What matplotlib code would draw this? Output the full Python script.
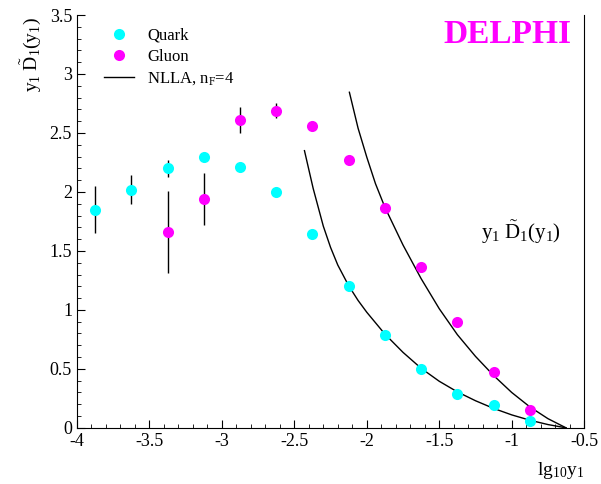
import matplotlib
matplotlib.use("Agg")
import matplotlib.pyplot as plt
import numpy as np
from matplotlib.ticker import MultipleLocator

plt.rcParams["font.family"] = "Liberation Serif"
plt.rcParams["mathtext.fontset"] = "custom"
plt.rcParams["mathtext.rm"] = "Liberation Serif"
plt.rcParams["mathtext.it"] = "Liberation Serif:italic"

# bin centres, lg10(y1)
x_quark = [-3.875, -3.625, -3.375, -3.125, -2.875, -2.625, -2.375,
           -2.125, -1.875, -1.625, -1.375, -1.125, -0.875]
y_quark = [1.85, 2.02, 2.20, 2.30, 2.21, 2.00, 1.64,
           1.20, 0.79, 0.50, 0.29, 0.19, 0.06]
err_quark = [0.20, 0.12, 0.07, 0, 0, 0, 0, 0, 0, 0, 0, 0, 0]

x_gluon = [-3.375, -3.125, -2.875, -2.625, -2.375, -2.125,
           -1.875, -1.625, -1.375, -1.125, -0.875]
y_gluon = [1.66, 1.94, 2.61, 2.69, 2.56, 2.27,
           1.86, 1.36, 0.90, 0.47, 0.15]
err_gluon = [0.35, 0.22, 0.11, 0.06, 0, 0, 0, 0, 0, 0, 0]

# NLLA curves
nlla_q_x = [-2.43, -2.37, -2.30, -2.25, -2.20, -2.125, -2.06, -2.00, -1.875,
            -1.75, -1.625, -1.50, -1.375, -1.25, -1.125, -1.00, -0.875, -0.75, -0.625]
nlla_q_y = [2.35, 2.03, 1.71, 1.53, 1.38, 1.205, 1.08, 0.98, 0.795,
            0.64, 0.505, 0.395, 0.305, 0.23, 0.165, 0.11, 0.065, 0.028, 0.0]
nlla_g_x = [-2.12, -2.06, -2.00, -1.94, -1.875, -1.75, -1.625, -1.50,
            -1.375, -1.25, -1.125, -1.00, -0.875, -0.75, -0.625]
nlla_g_y = [2.845, 2.54, 2.295, 2.07, 1.87, 1.55, 1.265, 1.01,
            0.79, 0.606, 0.444, 0.30, 0.178, 0.078, 0.0]

fig = plt.figure(figsize=(6.01, 4.84), dpi=100)
ax = fig.add_axes([0.128, 0.116, 0.844, 0.853])

ax.errorbar(x_quark, y_quark, yerr=err_quark, fmt="none", ecolor="black", elinewidth=1)
ax.errorbar(x_gluon, y_gluon, yerr=err_gluon, fmt="none", ecolor="black", elinewidth=1)
ax.plot(x_quark, y_quark, "o", color="#00ffff", ms=8, mec="none", label="Quark", zorder=3)
ax.plot(x_gluon, y_gluon, "o", color="#ff00ff", ms=8, mec="none", label="Gluon", zorder=3)
ax.plot(nlla_q_x, nlla_q_y, "-", color="black", lw=1, label=r"NLLA, n$_\mathrm{F}$=4")
ax.plot(nlla_g_x, nlla_g_y, "-", color="black", lw=1)

ax.set_xlim(-4, -0.5)
ax.set_ylim(0, 3.5)
ax.xaxis.set_minor_locator(MultipleLocator(0.1))
ax.yaxis.set_minor_locator(MultipleLocator(0.1))
ax.tick_params(which="both", direction="in", labelsize=13, top=False, right=False)
ax.tick_params(which="major", length=6)
ax.tick_params(which="minor", length=3)
ax.spines["top"].set_visible(False)
ax.set_xticks([-4, -3.5, -3, -2.5, -2, -1.5, -1, -0.5])
ax.set_xticklabels(["-4", "-3.5", "-3", "-2.5", "-2", "-1.5", "-1", "-0.5"])
ax.set_yticks([0, 0.5, 1, 1.5, 2, 2.5, 3, 3.5])
ax.set_yticklabels(["0", "0.5", "1", "1.5", "2", "2.5", "3", "3.5"])

fig.text(0.972, 0.006, r"$\mathrm{lg}_{10}\mathrm{y}_1$", ha="right", va="bottom", fontsize=14)
fig.text(0.03, 0.965, r"$\mathrm{y}_1\ \tilde{\mathrm{D}}_1(\mathrm{y}_1)$", rotation=90,
         ha="left", va="top", fontsize=14)
ax.text(0.875, 0.475, r"$\mathrm{y}_1\ \tilde{\mathrm{D}}_1(\mathrm{y}_1)$", transform=ax.transAxes,
        ha="center", va="center", fontsize=15)
fig.text(0.845, 0.928, "DELPHI", color="#ff00ff", fontsize=24, fontweight="bold",
         ha="center", va="center")

ax.legend(loc="upper left", bbox_to_anchor=(0.024, 1.005), frameon=False, fontsize=12,
          handlelength=1.8, handletextpad=0.8, labelspacing=0.3)

fig.savefig("out.png", dpi=100)
